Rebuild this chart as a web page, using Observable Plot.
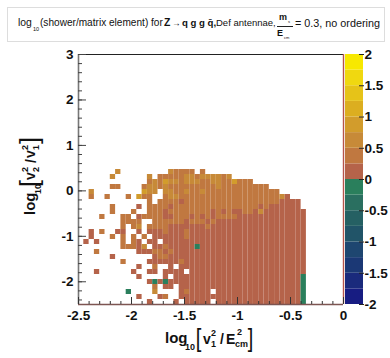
<!DOCTYPE html>
<html><head><meta charset="utf-8">
<script src="https://cdn.jsdelivr.net/npm/d3@7"></script>
<script src="https://cdn.jsdelivr.net/npm/@observablehq/plot@0.6"></script>
<style>
html,body{margin:0;padding:0;background:#fff}
#wrap{position:relative;width:390px;height:358px;overflow:hidden;font-family:"Liberation Sans",sans-serif;color:#111}
#wrap svg{position:absolute;left:0;top:0;background:transparent}
#box{position:absolute;left:7px;top:7px;width:378px;height:35px;border:1px solid #ddd;box-sizing:border-box;background:#fff}
.t{position:absolute;white-space:nowrap}
.s{position:absolute;white-space:nowrap}
</style></head><body><div id="wrap"></div>
<script>
const ones = "1111111111";
const tail = "1111111111111";
const tailG = "111111111111g";
// columns: log10(v1²/Ecm²) bins, rows: log10(v2²/v1²) bins, top row first
const rows = [
".......3.."+".......322"+"22.2......"+".............",
"......3..."+"...3.22222"+"332333323."+".............",
".........."+"...2324332"+"3332233224"+"222..........",
"......22.."+"..23323222"+"2222223222"+"222222.......",
"..3......."+"..433.3322"+"3223222222"+"22222222.....",
"..2..2...2"+".422..2332"+"2222222222"+"2222222231...",
".........."+"...2.22221"+"2222222222"+"222222221111.",
"......2..."+".1.2222122"+"2222222222"+"222212111111.",
"......2..."+"2..2221222"+"2222212121"+"1221311111111",
"....2...22"+".122221122"+"2121212222"+tail,
"........22"+"22..222222"+"1222121111"+tail,
"........2."+"23.2222111"+"1111211111"+tail,
"..1.2..11."+".1.1112111"+"2111111111"+tail,
"..1...2.2."+"2.2.111111"+"2111111111"+tail,
".1.1....2."+"21.11.1111"+ones+tail,
"........22"+"213.112111"+"11g1111111"+tail,
"...2......"+".111221211"+ones+tail,
"......1..."+"....122111"+ones+tail,
"........2."+"...1111112"+ones+tail,
".........."+".1..2..1.1"+ones+tail,
"...1......"+"1..11.1111"+".111111111"+tail,
".........."+".1....1.11"+ones+tailG,
".........."+"...1g1g111"+ones+tailG,
".........."+"....2.11.1"+ones+tailG,
".........g"+"....3....1"+"21111.1111"+tailG,
".........."+".1...12..1"+ones+tailG,
".........."+"...1....1."+"11111.1111"+tailG
];
const levelValue = {g:-0.125, "1":0.125, "2":0.375, "3":0.625, "4":0.875};
const xBinStart = -2.5, xBinWidth = 0.05, yBinStart = -2.5, yBinHeight = 0.11;
const thresholds = [-1.75,-1.5,-1.25,-1,-0.75,-0.5,-0.25,0,0.25,0.5,0.75,1,1.25,1.5,1.75];
const palette = ["#171c82","#1a2a7c","#1b3875","#1e4670","#215468","#256063","#2a6f60","#2a7f5c",
                 "#b5634a","#c07840","#c78a38","#d29c2c","#dcae20","#e6c318","#f0d810","#f7e800"];
const xMajor = [-2.5,-2,-1.5,-1,-0.5,0];
const xMinor = d3.range(-25,1).map(d=>d/10);
const yMajor = [-2,-1,0,1,2,3];
const yMinor = d3.range(-12,16).map(d=>d/5);
const zMajor = [-2,-1.5,-1,-0.5,0,0.5,1,1.5,2];
const bandEdges = d3.range(-8,8).map(d=>d/4);

const cells = [];
rows.forEach((row,ri)=>{
  const r = rows.length-1-ri;
  [...row].forEach((ch,c)=>{
    if(ch!=="."){
      cells.push({x1:xBinStart+c*xBinWidth,x2:xBinStart+(c+1)*xBinWidth,
                  y1:yBinStart+r*yBinHeight,y2:yBinStart+(r+1)*yBinHeight,v:levelValue[ch]});
    }
  });
});
const fmt = d=>String(d);
const color = {type:"threshold",domain:thresholds,range:palette};
const axisStyle = {fontFamily:"Liberation Sans",fontWeight:"bold",fontSize:13.5};
const chart = Plot.plot({
  width:390,height:358,marginLeft:78,marginRight:47,marginTop:54,marginBottom:54,
  style:{background:"transparent",overflow:"visible"},
  x:{domain:[-2.5,0]},y:{domain:[-2.5,3]},color,
  marks:[
    Plot.rect(cells,{x1:"x1",x2:"x2",y1:"y1",y2:"y2",fill:"v",inset:0}),
    Plot.ruleY([3],{stroke:"#222",strokeWidth:1}),
    Plot.ruleX([-2.5],{stroke:"#777",strokeWidth:1.6}),
    Plot.ruleX([0],{stroke:"#b5544a",strokeWidth:1.4}),
    Plot.ruleY([-2.5],{stroke:"#7d5552",strokeWidth:1.6}),
    Plot.axisX(xMinor,{anchor:"bottom",tickSize:-3,tickFormat:()=>"",label:null,stroke:"#333"}),
    Plot.axisX(xMajor,{anchor:"bottom",tickSize:-7,tickPadding:13,tickFormat:fmt,label:null,stroke:"#333",...axisStyle}),
    Plot.axisY(yMinor,{anchor:"left",tickSize:-4,tickFormat:()=>"",label:null,stroke:"#444"}),
    Plot.axisY(yMajor,{anchor:"left",tickSize:-8,tickPadding:13,tickFormat:fmt,label:null,stroke:"#444",...axisStyle})
  ]
});
const bar = Plot.plot({
  width:390,height:358,marginLeft:345,marginRight:27,marginTop:54,marginBottom:54,
  style:{background:"transparent",overflow:"visible"},
  x:{domain:[0,1],axis:null},y:{domain:[-2,2]},color,
  marks:[
    Plot.rect(bandEdges,{x1:0,x2:1,y1:d=>d,y2:d=>d+0.25,fill:d=>d+0.125}),
    Plot.axisY(zMajor,{anchor:"right",tickSize:-5,tickPadding:6,tickFormat:fmt,label:null,stroke:"#222",...axisStyle})
  ]
});
const wrap = document.getElementById("wrap");
const box = document.createElement("div");box.id="box";wrap.appendChild(box);
wrap.appendChild(chart);wrap.appendChild(bar);
function add(html,css){const d=document.createElement("div");d.className="t";d.style.cssText=css;d.innerHTML=html;wrap.appendChild(d);return d;}
// title
add('log','left:18px;top:17px;font-size:10.4px');
add('10','left:33px;top:26px;font-size:5.5px');
add('(shower/matrix element) for','left:40px;top:17px;font-size:10.1px');
add('Z','left:164px;top:17px;font-size:10.4px;font-weight:bold');
add('→','left:172px;top:18px;font-size:8.5px');
add('q g g q̄,','left:182px;top:17px;font-size:9.6px;font-weight:bold');
add('Def antennae,','left:216px;top:17px;font-size:9.5px');
add('m','left:279px;top:12px;font-size:9px;font-weight:bold');
add('s','left:288px;top:19px;font-size:4px');
add('','left:277px;top:26px;width:16px;height:1px;background:#222');
add('E','left:277px;top:28px;font-size:9px;font-weight:bold');
add('cm','left:284px;top:35px;font-size:4px');
add('= 0.3, no ordering','left:295px;top:17px;font-size:10.8px');
// x label
add('log','left:165px;top:329px;font-size:15px;font-weight:bold');
add('10','left:185px;top:342px;font-size:9px;font-weight:bold');
add('[','left:195px;top:324px;font-size:25px;font-weight:normal;transform:scaleX(.8)');
add('v','left:203px;top:331px;font-size:14px;font-weight:bold');
add('2','left:211px;top:328px;font-size:9px;font-weight:bold');
add('1','left:211px;top:339px;font-size:9px;font-weight:bold');
add('/','left:220px;top:331px;font-size:14px;font-weight:bold');
add('E','left:226px;top:331px;font-size:14px;font-weight:bold');
add('2','left:237px;top:327px;font-size:9px;font-weight:bold');
add('cm','left:235px;top:339px;font-size:9px;font-weight:bold');
add(']','left:247px;top:324px;font-size:25px;font-weight:normal;transform:scaleX(.8)');
// y label (rotated group)
const yl = add('','left:20px;top:215px;width:76px;height:26px;transform-origin:0 0;transform:rotate(-90deg)');
yl.innerHTML = [
 ['log',0,1,15],['10',21,13,9],['[',28,-5,25,'normal'],['v',35,2,14],['2',43,0,9],['2',43,11,9],
 ['/',52,3,14],['v',57,2,14],['2',65,0,9],['1',65,11,9],[']',71,-5,25,'normal']
].map(([s,l,t,f,w])=>`<span class="s" style="left:${l}px;top:${t}px;font-size:${f}px;font-weight:${w||'bold'}">${s}</span>`).join("");
</script></body></html>
